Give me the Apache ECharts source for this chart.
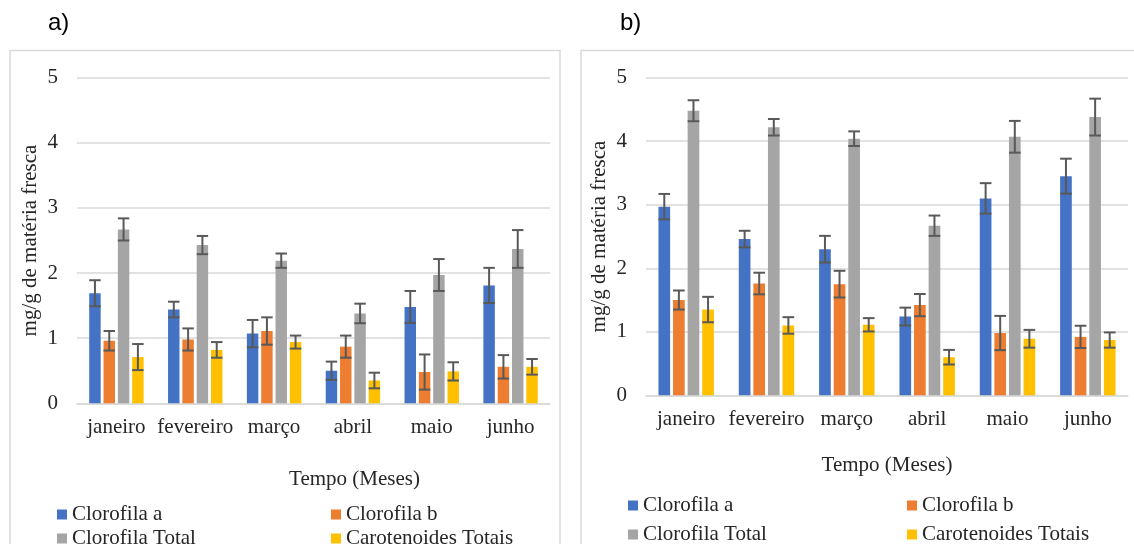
<!DOCTYPE html>
<html>
<head>
<meta charset="utf-8">
<script src="https://cdn.jsdelivr.net/npm/echarts@6/dist/echarts.min.js"></script>
<style>html,body{margin:0;padding:0;background:#fff;}#c{width:1134px;height:544px;}</style>
</head>
<body>
<div id="c"></div>
<script>
const months = ['janeiro', 'fevereiro', 'março', 'abril', 'maio', 'junho'];
const seriesNames = ['Clorofila a', 'Clorofila b', 'Clorofila Total', 'Carotenoides Totais'];
const yTicks = [0, 1, 2, 3, 4, 5];

// Panel a)
const chlA_a = [1.69, 1.44, 1.07, 0.50, 1.48, 1.81];
const chlA_a_err = [0.20, 0.12, 0.21, 0.14, 0.245, 0.27];
const chlB_a = [0.96, 0.98, 1.11, 0.87, 0.48, 0.56];
const chlB_a_err = [0.15, 0.17, 0.21, 0.17, 0.27, 0.18];
const chlT_a = [2.67, 2.43, 2.19, 1.38, 1.97, 2.37];
const chlT_a_err = [0.17, 0.14, 0.11, 0.15, 0.245, 0.29];
const car_a = [0.71, 0.82, 0.94, 0.35, 0.49, 0.56];
const car_a_err = [0.20, 0.12, 0.10, 0.12, 0.14, 0.12];

// Panel b)
const chlA_b = [2.97, 2.46, 2.30, 1.24, 3.10, 3.45];
const chlA_b_err = [0.20, 0.13, 0.21, 0.14, 0.24, 0.275];
const chlB_b = [1.50, 1.76, 1.75, 1.42, 0.98, 0.92];
const chlB_b_err = [0.15, 0.17, 0.21, 0.175, 0.27, 0.175];
const chlT_b = [4.48, 4.22, 4.04, 2.67, 4.07, 4.38];
const chlT_b_err = [0.165, 0.13, 0.115, 0.16, 0.25, 0.29];
const car_b = [1.35, 1.10, 1.11, 0.60, 0.89, 0.87];
const car_b_err = [0.20, 0.13, 0.105, 0.115, 0.14, 0.12];

const colors = ['#4472C4', '#ED7D31', '#A5A5A5', '#FFC000'];
const FONT = 'Liberation Serif';
const TXT = '#262626';
const GRIDC = '#d9d9d9';
const CAT_GAP = 0.31, BAR_GAP = 0.25;

const panels = [
  { vals: [chlA_a, chlB_a, chlT_a, car_a], errs: [chlA_a_err, chlB_a_err, chlT_a_err, car_a_err] },
  { vals: [chlA_b, chlB_b, chlT_b, car_b], errs: [chlA_b_err, chlB_b_err, chlT_b_err, car_b_err] }
];

const series = [];
panels.forEach((p, g) => {
  p.vals.forEach((v, s) => {
    series.push({
      type: 'bar', name: seriesNames[s], xAxisIndex: g, yAxisIndex: g,
      data: v, barCategoryGap: (CAT_GAP * 100) + '%', barGap: (BAR_GAP * 100) + '%',
      itemStyle: { color: colors[s] }, silent: true
    });
  });
});
panels.forEach((p, g) => {
  p.vals.forEach((v, s) => {
    const e = p.errs[s];
    series.push({
      type: 'custom', xAxisIndex: g, yAxisIndex: g, z: 10, silent: true,
      data: v.map((val, i) => [i, val - e[i], val + e[i]]),
      encode: { x: 0, y: [1, 2] },
      renderItem: function (params, api) {
        const i = api.value(0);
        const lo = api.coord([i, api.value(1)]);
        const hi = api.coord([i, api.value(2)]);
        const band = api.size([1, 0])[0];
        const total = band * (1 - CAT_GAP);
        const bw = total / (4 + 3 * BAR_GAP);
        const cx = lo[0] - total / 2 + bw / 2 + s * bw * (1 + BAR_GAP);
        const hw = bw / 2;
        const st = { stroke: '#595959', lineWidth: 2 };
        return {
          type: 'group', children: [
            { type: 'line', shape: { x1: cx, y1: hi[1], x2: cx, y2: lo[1] }, style: st },
            { type: 'line', shape: { x1: cx - hw, y1: hi[1], x2: cx + hw, y2: hi[1] }, style: st },
            { type: 'line', shape: { x1: cx - hw, y1: lo[1], x2: cx + hw, y2: lo[1] }, style: st }
          ]
        };
      }
    });
  });
});

function xAxisCfg(g, gap, pad) {
  return {
    type: 'category', gridIndex: g, data: months,
    axisTick: { show: false },
    axisLine: { lineStyle: { color: GRIDC, width: 1.5 } },
    axisLabel: { fontFamily: FONT, fontSize: 21, color: TXT, margin: 14, interval: 0 },
    name: 'Tempo (Meses)', nameLocation: 'middle', nameGap: gap,
    nameTextStyle: { fontFamily: FONT, fontSize: 21, color: TXT, padding: pad }
  };
}
function yAxisCfg(g) {
  return {
    type: 'value', gridIndex: g, min: 0, max: 5, interval: 1,
    axisLine: { show: false }, axisTick: { show: false },
    axisLabel: { fontFamily: FONT, fontSize: 21, color: TXT, margin: 19,
      formatter: v => yTicks.indexOf(v) >= 0 ? String(v) : '' },
    splitLine: { lineStyle: { color: GRIDC, width: 1.5 } },
    name: 'mg/g de matéria fresca', nameLocation: 'middle', nameGap: 36,
    nameTextStyle: { fontFamily: FONT, fontSize: 21, color: TXT }
  };
}

const legendPos = [
  [[57, 504], [331, 504], [57, 528], [331, 528]],
  [[628, 495], [907, 495], [628, 524], [907, 524]]
];
const legends = [];
legendPos.forEach(pp => {
  pp.forEach((pos, s) => {
    legends.push({
      data: [seriesNames[s]], left: pos[0], top: pos[1], padding: 0,
      itemWidth: 10, itemHeight: 10, itemGap: 0, icon: 'rect', selectedMode: false,
      textStyle: { fontFamily: FONT, fontSize: 21, color: TXT }
    });
  });
});

const chart = echarts.init(document.getElementById('c'), null, { renderer: 'canvas' });
chart.setOption({
  backgroundColor: '#fff',
  animation: false,
  textStyle: { fontFamily: FONT },
  grid: [
    { left: 77, top: 77.7, width: 473, height: 325.6 },
    { left: 646, top: 77.7, width: 482, height: 317.6 }
  ],
  xAxis: [xAxisCfg(0, 66, [0, 0, 0, 82]), xAxisCfg(1, 60, [0, 0, 0, 0])],
  yAxis: [yAxisCfg(0), yAxisCfg(1)],
  legend: legends,
  graphic: [
    { type: 'rect', shape: { x: 10, y: 50.5, width: 550, height: 600 }, style: { fill: 'none', stroke: GRIDC, lineWidth: 1.5 }, silent: true },
    { type: 'rect', shape: { x: 581, y: 50.5, width: 600, height: 600 }, style: { fill: 'none', stroke: GRIDC, lineWidth: 1.5 }, silent: true },
    { type: 'text', left: 48, top: 11, style: { text: 'a)', font: '24px "Liberation Sans"', fill: '#000' } },
    { type: 'text', left: 620, top: 11, style: { text: 'b)', font: '24px "Liberation Sans"', fill: '#000' } }
  ],
  series: series
});
</script>
</body>
</html>
